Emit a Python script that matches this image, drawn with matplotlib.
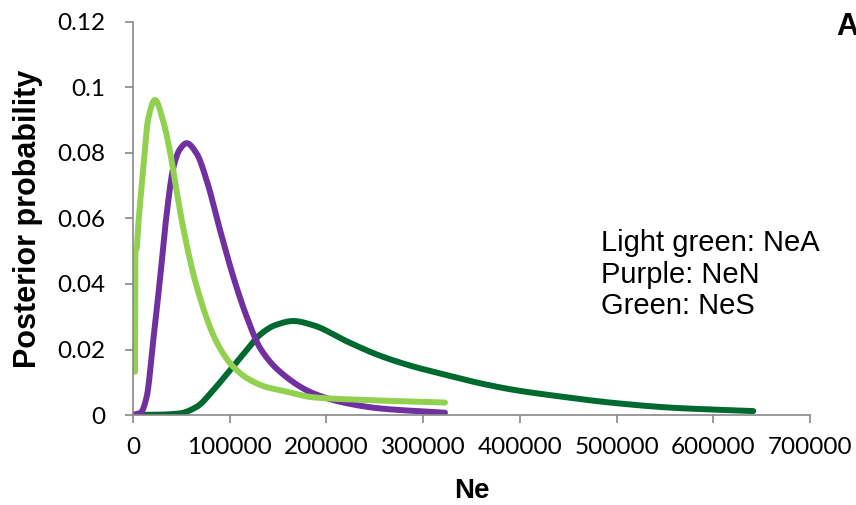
import numpy as np
import matplotlib.pyplot as plt

# Light green: NeA
nea_x = [2070, 2380, 3830, 5480, 10650, 15820, 22750, 31330, 38260, 45180, 52010,
         65870, 86540, 103700, 121000, 138200, 152000, 186430, 238130, 322600]
nea_y = [0.0132, 0.0494, 0.0509, 0.058, 0.0753, 0.0906, 0.0962, 0.0896, 0.0804,
         0.0682, 0.057, 0.0392, 0.0222, 0.0147, 0.0107, 0.0085, 0.0076, 0.0054,
         0.0046, 0.0038]

# Purple: NeN
nen_x = [0, 8270, 14170, 20990, 27920, 34850, 41670, 48600, 55530, 65870, 76210,
         89960, 103700, 117570, 131320, 152000, 186430, 220960, 255390, 322600]
nen_y = [0.0, 0.0008, 0.0056, 0.0229, 0.0415, 0.0615, 0.0755, 0.0812, 0.083, 0.0798,
         0.0716, 0.0565, 0.0422, 0.03, 0.0205, 0.0132, 0.0066, 0.0036, 0.002, 0.0007]

# Green: NeS
nes_x = [0, 27920, 48600, 65870, 83030, 100300, 117570, 131320, 146830, 165750,
         186430, 220960, 255390, 289840, 324280, 358700, 393150, 437990, 500040,
         558650, 641370]
nes_y = [0.0, 0.0001, 0.0005, 0.0025, 0.0076, 0.0137, 0.0198, 0.0245, 0.0274, 0.0287,
         0.0274, 0.0225, 0.0181, 0.0148, 0.0122, 0.0097, 0.0077, 0.0058, 0.0036,
         0.0022, 0.0012]

xticks = [0, 100000, 200000, 300000, 400000, 500000, 600000, 700000]
yticks = [0, 0.02, 0.04, 0.06, 0.08, 0.1, 0.12]
yticklabels = ['0', '0.02', '0.04', '0.06', '0.08', '0.1', '0.12']


def smooth(x, y, n=800):
    # piecewise cubic hermite (pchip) through the read points
    x = np.array(x, float)
    y = np.array(y, float)
    xs = np.linspace(x[0], x[-1], n)
    h = np.diff(x)
    d = np.diff(y) / h
    m = np.zeros_like(y)
    m[0] = d[0]
    m[-1] = d[-1]
    for i in range(1, len(x) - 1):
        if d[i - 1] * d[i] <= 0:
            m[i] = 0
        else:
            w1 = 2 * h[i] + h[i - 1]
            w2 = h[i] + 2 * h[i - 1]
            m[i] = (w1 + w2) / (w1 / d[i - 1] + w2 / d[i])
    idx = np.clip(np.searchsorted(x, xs, side='right') - 1, 0, len(x) - 2)
    t = (xs - x[idx]) / h[idx]
    ys = ((2 * t**3 - 3 * t**2 + 1) * y[idx] + (t**3 - 2 * t**2 + t) * h[idx] * m[idx]
          + (-2 * t**3 + 3 * t**2) * y[idx + 1] + (t**3 - t**2) * h[idx] * m[idx + 1])
    return xs, ys


fig = plt.figure(figsize=(8.56, 5.05), dpi=100)
ax = fig.add_axes([133 / 856, 1 - 415 / 505, (810 - 133) / 856, (415 - 22) / 505])

lw = 4.3
ax.plot(*smooth(nes_x, nes_y), color='#00692F', lw=lw, solid_capstyle='round')
ax.plot(*smooth(nen_x, nen_y), color='#7030A0', lw=lw, solid_capstyle='round')
ax.plot(*smooth(nea_x, nea_y), color='#92D050', lw=lw, solid_capstyle='round')

ax.set_xlim(0, 700000)
ax.set_ylim(0, 0.12)
ax.set_xticks(xticks)
ax.set_xticklabels([str(v) for v in xticks], family='Lato', fontsize=17.5)
ax.set_yticks(yticks)
ax.set_yticklabels(yticklabels, family='Lato', fontsize=17.5)
for s in ['top', 'right']:
    ax.spines[s].set_visible(False)
for s in ['left', 'bottom']:
    ax.spines[s].set_color('#898989')
    ax.spines[s].set_linewidth(1.2)
ax.tick_params(axis='both', direction='out', length=6, width=1.2, color='#898989')
ax.tick_params(axis='y', pad=14)
ax.tick_params(axis='x', pad=10)

ax.set_xlabel('Ne', family='Liberation Sans', fontweight='bold', fontsize=20, labelpad=14)
ax.set_ylabel('Posterior probability', family='Liberation Sans', fontweight='bold',
              fontsize=22, labelpad=10)

fig.text(601 / 856, 1 - 229 / 505, 'Light green: NeA\nPurple: NeN\nGreen: NeS',
         family='Liberation Sans', fontsize=21, va='top', ha='left', linespacing=1.16)
fig.text(836 / 856, 1 - 12 / 505, 'A', family='Liberation Sans', fontweight='bold',
         fontsize=22, va='top', ha='left')

fig.savefig('out.png', dpi=100)
